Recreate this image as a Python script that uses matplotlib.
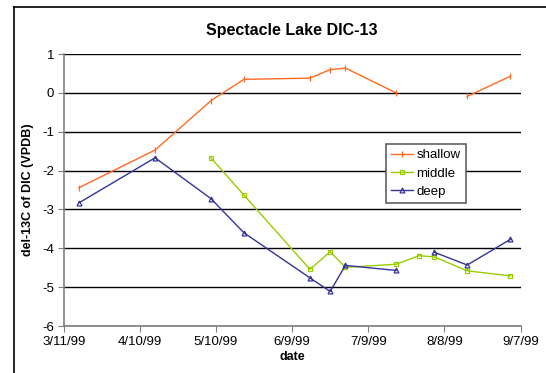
import datetime as dt
import numpy as np
import matplotlib
matplotlib.use('Agg')
import matplotlib.pyplot as plt
import matplotlib.dates as mdates
from matplotlib.lines import Line2D

plt.rcParams['font.family'] = ['Liberation Sans', 'DejaVu Sans']
plt.rcParams['axes.unicode_minus'] = False

# sampling dates (1999)
dates = ['1999-03-17', '1999-04-16', '1999-05-08', '1999-05-21', '1999-06-16', '1999-06-24',
         '1999-06-30', '1999-07-20', '1999-07-29', '1999-08-04', '1999-08-17', '1999-09-03']
shallow = [-2.44, -1.47, -0.20, 0.35, 0.38, 0.60, 0.64, 0.00, np.nan, np.nan, -0.09, 0.43]
middle = [np.nan, np.nan, -1.67, -2.63, -4.54, -4.09, -4.49, -4.41, -4.19, -4.22, -4.58, -4.71]
deep = [-2.83, -1.67, -2.72, -3.60, -4.76, -5.11, -4.44, -4.57, np.nan, -4.10, -4.43, -3.77]

x = [dt.datetime.strptime(d, '%Y-%m-%d') for d in dates]
start = dt.datetime(1999, 3, 11)
xticks = [start + dt.timedelta(days=30 * i) for i in range(7)]

fig = plt.figure(figsize=(5.46, 3.73), dpi=100)
ax = fig.add_axes([0.1167, 0.126, 0.8366, 0.729])

# outer chart frame (only left and top edges visible)
fig.add_artist(Line2D([14 / 546, 14 / 546], [0, 1 - 7 / 373], transform=fig.transFigure,
                      color='black', lw=1.2))
fig.add_artist(Line2D([14 / 546, 1], [1 - 7 / 373, 1 - 7 / 373], transform=fig.transFigure,
                      color='black', lw=1.2))

ax.plot(x, shallow, color='#FF6A1F', lw=1, marker='|', ms=5, mew=0.9, label='shallow')
ax.plot(x, middle, color='#99CC00', lw=1, marker='s', ms=3.5, mfc='none', mew=0.9, label='middle')
ax.plot(x, deep, color='#333399', lw=1, marker='^', ms=3.5, mfc='none', mew=0.9, label='deep')

ax.set_xlim(xticks[0], xticks[-1])
ax.set_ylim(-6, 1)
ax.set_xticks(xticks)
ax.xaxis.set_major_formatter(plt.FuncFormatter(
    lambda v, p: '{}/{}/{}'.format(mdates.num2date(v).month, mdates.num2date(v).day,
                                   mdates.num2date(v).strftime('%y'))))
ax.set_yticks(range(-6, 2))
ax.yaxis.grid(True, color='black', lw=1)
ax.set_axisbelow(True)

for s in ['top', 'right']:
    ax.spines[s].set_visible(False)
for s in ['left', 'bottom']:
    ax.spines[s].set_color('#808080')
    ax.spines[s].set_linewidth(1.2)
ax.tick_params(axis='both', direction='out', length=4, color='#808080', labelsize=9.5, pad=3)

ax.set_title('Spectacle Lake DIC-13', fontsize=11.5, fontweight='bold', pad=14)
ax.set_xlabel('date', fontsize=9, fontweight='bold', labelpad=2)
ax.set_ylabel('del-13C of DIC (VPDB)', fontsize=9, fontweight='bold', labelpad=6)

leg = ax.legend(loc='upper left', bbox_to_anchor=(0.706, 0.67), fontsize=9.5, frameon=True,
                fancybox=False, edgecolor='#606060', framealpha=1, handlelength=1.6,
                handletextpad=0.3, borderpad=0.4, labelspacing=0.45, borderaxespad=0)
leg.get_frame().set_linewidth(1.2)

fig.savefig('out.png', dpi=100)
